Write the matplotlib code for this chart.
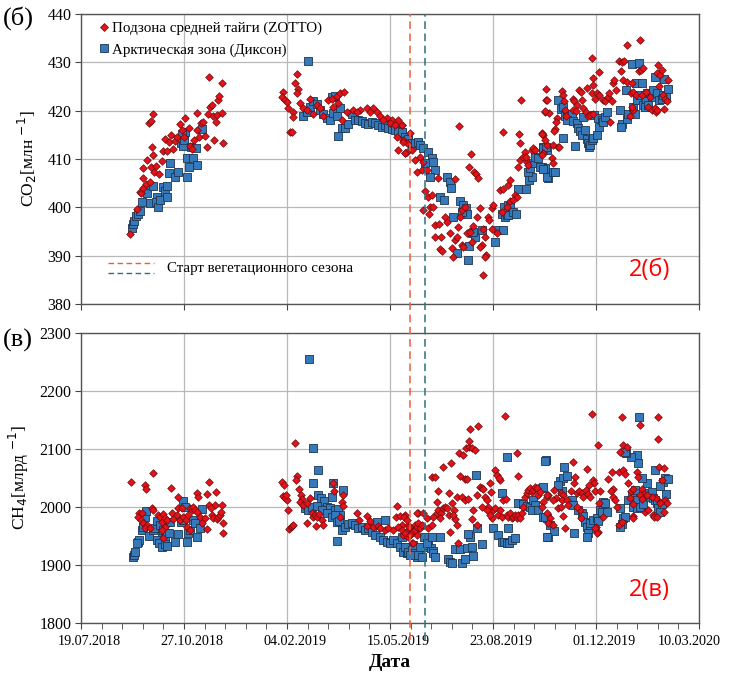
#CO2 and CH4 at ZOTTO and Dikson

import numpy as np
import pandas as pd
import matplotlib.pyplot as plt
import matplotlib.dates as mdates
import matplotlib.transforms as mtransforms
from matplotlib.lines import Line2D

plt.rcParams['font.family'] = ['Liberation Serif', 'DejaVu Serif']

# day offsets are counted from 19.07.2018
start = pd.Timestamp('2018-07-19')

# CO2, ZOTTO (red diamonds)
co2_zotto_day = [48, 54.7, 57, 58, 60.6, 60, 64.4, 66, 67.7, 69.6, 67.7, 71.2, 72.9, 76, 78.4, 80, 81.6, 83.9,
                 85.8, 87, 89, 91.3, 92.9, 96.2, 97.8, 100, 101.3, 104.6, 105.9, 107.5, 109.8, 112.3, 113, 114.9,
                 116.2, 118.2, 120.1, 122, 123.7, 125.3, 126.9, 124, 128.5, 129.2, 131.1, 131.8, 133.4, 134.3,
                 136.6, 137.3, 138.2, 60.6, 63.1, 67, 70.3, 68.6,
                 196.4, 194.8, 198, 199.7, 201.3, 206.2, 205.5, 209.4, 207.8, 211, 210, 202.9, 204.9, 212.6,
                 215.9, 219.1, 222.3, 228.8, 232, 240.1, 243.4, 248.2, 251.5, 255.3, 249.8, 253.1, 264.4, 270.9,
                 277.3, 283.8, 287.1, 296.8, 301.6, 308.1, 311.3, 306.5, 313, 316.2, 319.4, 314.6, 308.1, 225.6,
                 235.3, 245, 257.9, 267.6, 280.6, 290.3, 293.5, 300, 304.8,
                 311.3, 312.9, 316.2, 314.6, 321, 324.3, 325.9, 329.1, 330.7, 332.4, 335.6, 334, 337.2, 340.4,
                 332.4, 338.8, 342, 338.2, 346.9, 363.1, 367.3, 378.3, 377, 381.5, 383.5, 385.7, 343.7, 347.9,
                 343.7, 349.2, 348.5, 350.1, 353.4, 355, 358.2, 359.9, 361.5, 363.1, 364.7, 366.3, 368, 369.6,
                 372.8, 369.6, 371.2, 374.4, 377.7, 379.3, 380.9, 384.1, 387.4, 389, 387.4, 390.6, 392.2, 393.2,
                 392.2, 390.6, 395.5, 396.4, 398.7, 400.3, 398.7, 403.5, 406.8, 410, 414.9, 408.4, 413.3, 416.5,
                 416.5, 421.3, 423, 419.7, 424.6, 426.2, 429.4, 432.7, 434.3, 426.2, 431, 432, 437.5, 439.1,
                 440.8, 447.2, 448.8, 452.1, 409.4, 425.5, 426.8, 451.4, 450.5,
                 451.4, 452.7, 454.7, 450.8, 447.2, 450.5, 448.8, 447.2, 456.9, 457.9, 458.5, 463.4, 464.4,
                 460.2, 459.2, 461.8, 461.1, 466.6, 467.6, 468.9, 469.9, 470.8, 478, 478.6, 481.2, 483.8, 485.1,
                 486.1, 478, 480.8, 487.7, 490.3, 492.5, 494.1, 497.4, 491.6, 495.8, 496.7, 497.4, 495.8, 499,
                 500.6, 503.2, 503.2, 506.4, 508.7, 511.9, 513.6, 515.2, 512.9, 516.8, 517.4, 519.4, 523.9,
                 522.6, 524.9, 527.1, 526.5, 529.7, 530.4, 533.6, 534.6, 536.2, 538.8, 533, 536.2, 534.6, 542.7,
                 542.1, 543.3, 545.9, 544.3, 548.5, 552.4, 550.8, 554, 557.2, 558.2, 559.5, 560.5, 559.5, 562.1,
                 563.7, 565.3, 567, 568.6, 570.2, 566, 561.4]
co2_zotto_val = [394.5, 399.6, 403.2, 402.9, 406, 408.1, 409.8, 417.5, 417.9, 419.3, 408.4, 407.4, 408.5, 406.9,
                 409.6, 411.7, 414.1, 411.7, 413.6, 415, 412, 413.8, 414.6, 417.2, 415.9, 414.5, 418.4, 416.5,
                 412.7, 412, 413.9, 419.6, 416, 414.6, 417.4, 417.7, 414.8, 412.4, 419.4, 420.8, 421.2, 426.9,
                 418.8, 413.9, 417.7, 419.1, 422.2, 423, 425.7, 419.6, 413.4, 403.9, 404.8, 405.3, 410.8, 412.4,
                 423.9, 422.9, 422.2, 421.7, 420.5, 419.8, 418.6, 427.6, 425.8, 424.4, 423.6, 415.5, 415.6,
                 421.5, 420.5, 420.1, 422.5, 421.2, 420.5, 422.2, 422.5, 423, 423.6, 423.9, 421.5, 418.1, 420.1,
                 420.1, 420.5, 420.5, 419.8, 418.4, 418.1, 418.1, 417, 414.6, 413.9, 413.2, 415.3, 411.2, 411.9,
                 419.4, 418.8, 420.8, 419.8, 419.8, 419.8, 418.8, 418.1, 417.4, 417,
                 417, 413.6, 411.5, 411.2, 411.9, 409.8, 407.4, 410.5, 407.7, 409.4, 407.7, 403.4, 402.2, 402.5,
                 399.4, 400.1, 400.1, 398.7, 406, 405.8, 416.8, 411, 408.3, 407.2, 406.9, 406, 396.3, 396.5,
                 393.8, 393.9, 391.3, 391, 398, 397, 394.6, 391.5, 389.8, 393.2, 393.9, 396, 398, 399.4,
                 400.1, 392.2, 391.8, 394.6, 394.9, 392.9, 396.1, 398, 399.8, 392.2, 391.8, 395.6, 393.9, 390.1,
                 389.8, 386, 398, 397.4, 399.8, 400.5, 395.6, 394.6, 403.6, 403.7, 404.6, 399.1, 400.1, 401.2,
                 405.6, 402.5, 402.2, 401.5, 408.4, 409.8, 410.5, 409.4, 408.7, 413.2, 411.5, 410.5, 411.9, 412.2,
                 411.9, 415.3, 415, 412.9, 415.6, 415.2, 422.2, 422.2, 419.8,
                 424.4, 422.1, 419.6, 419.9, 415.2, 413.9, 411.2, 410.8, 410.1, 409.1, 412.9, 412.5, 412.4,
                 416.1, 415.7, 418.4, 417.7, 424.1, 423.2, 421.9, 420.1, 418.8, 422.5, 421.9, 421.2, 424.3, 423.9,
                 422.2, 420.1, 420, 420.5, 419.8, 418.8, 419.1, 419.4, 424.6, 423.6, 426.7, 425.3, 430.8, 422.5,
                 423.6, 423.2, 427.9, 422.2, 421.9, 422.9, 417.7, 421.9, 423.7, 425.7, 426.3, 424.3, 428.1,
                 430.3, 430.1, 430.3, 426.3, 426, 433.6, 423.6, 425.7, 423.9, 423.2, 418.8, 420.1, 420.7, 434.6,
                 428.1, 428.4, 428.8, 423.2, 423.9, 422.9, 420.8, 420.1, 420.5, 419.8, 420.1, 429.4, 427.7, 427.4,
                 428.4, 423.2, 422.5, 421.9, 426.3, 420.3, 425]

# CO2, Dikson (blue squares)
co2_dikson_day = [49.2, 50.2, 51.5, 53.4, 55.7, 57.3, 59.3, 62.5, 63.8, 69.6, 67, 73.5, 72.9, 75.1, 76.7, 80,
                  81.6, 83.9, 83.2, 86.4, 85.8, 91.3, 94.5, 96.8, 98.7, 100, 101, 103.3, 102.6, 104.6, 107.2,
                  109.1, 113, 111.7, 117.2, 97.8,
                  220.7, 215.9, 219.1, 222.3, 225.6, 228.8, 232, 235.3, 238.5, 241.7, 245, 248.2, 243.4, 246.6,
                  251.5, 253.1, 256.3, 259.5, 262.8, 266, 269.3, 272.5, 275.7, 279, 282.2, 285.4, 288.7, 291.9,
                  295.1, 298.4, 301.6, 304.8, 308.1, 311.3, 314.6, 317.8, 321, 324.3, 327.5, 249.8,
                  311.3, 314.6, 317.8, 321, 324.3, 327.5, 329.1, 332.4, 337.2, 340.4, 342, 343.7, 334, 338.8,
                  355, 358.2, 358.9, 348.5, 352.4, 361.5, 368, 371.2, 373.8, 375.1, 369.6, 379.3, 382.5, 380.9,
                  389, 377, 376, 364.7, 402, 405.2, 410, 408.4, 411.6, 413.3, 414.9, 410.7, 414.9, 416.5, 419.7,
                  422.3, 424.6, 432, 435.3, 437.5, 434.3, 435.9, 439.1, 440.8, 444, 447.2, 450.5, 452.1, 448.8, 453,
                  448.2, 451.4, 445.6, 448.8, 452.7, 458.5, 460.2, 463.4, 465.7, 468.3, 469.9, 471.5, 473.1,
                  476.3, 467.6, 471.5, 478, 481.2, 482.8, 484.4, 486.1, 487.7, 489.3, 491.6, 492.5, 493.5, 494.1,
                  495.8, 497.4, 500.6, 498, 502.2, 503.2, 505.5, 507.1, 508.7, 510.3, 479.6, 523.3, 524.9, 523.9,
                  530.4, 531.4, 536.2, 537.8, 539.4, 529.1, 534.6, 538.8, 541.4, 544.3, 542.7, 545.9, 548.5,
                  549.2, 552.4, 554, 555.6, 557.2, 558.9, 561.4, 563.7, 565.3, 567.9, 570.2, 566, 547.5, 550.8]
co2_dikson_val = [395.8, 396.5, 397.2, 398.1, 398.6, 399.3, 401, 403.6, 403, 404.4, 400.8, 402.2, 401, 400.1,
                  401.5, 404.2, 403.4, 404.4, 402.2, 409.2, 407, 406.3, 407.2, 413.4, 412.7, 413.9, 415.6, 406.3,
                  410.3, 408.3, 412.4, 410.1, 408.8, 412.2, 416.3, 415.2,
                  430.3, 418.8, 419.8, 420.8, 421.9, 421.4, 420.1, 419.3, 418.4, 418.1, 419.6, 418.9, 422.8, 423,
                  420.5, 416.5, 416.5, 417.2, 419.3, 418.1, 418.1, 417.9, 417.5, 417.2, 417.7, 417.4, 417, 416.7,
                  417, 416.5, 416.3, 416, 415.7, 415.3, 414.6, 413.9, 413.1, 412.9, 413.2, 414.7,
                  415.6, 414.6, 414.1, 413.2, 413.4, 413.6, 412.9, 412.2, 411.5, 410.1, 409.4, 407.7, 409.2, 406.3,
                  406.3, 405.3, 403.9, 402.1, 401.5, 398, 401.2, 400.5, 399.8, 398.7, 399.1, 394.6, 393.9, 394.9,
                  395.3, 392, 389.2, 390.5, 392.9, 395.3, 395.3, 398.7, 398, 398.4, 398.4, 400.1, 400.5, 400.3,
                  399.1, 398.7, 403.7, 403.7, 405.6, 406.3, 407.4, 408.1, 409.1, 410.5, 410.1, 408.4, 408.1, 411.9,
                  412.5, 406,
                  412.2, 412.5, 408.4, 407.9, 406.3, 407.2, 407.4, 422.3, 420.3, 420.8, 418.8, 419.4, 418.4,
                  419.4, 414.3, 418.1, 417.9, 417.4, 416.5, 415.7, 415, 418.6, 416, 414.1, 413.2, 412.4, 412.9,
                  413.9, 414.3, 415, 419.1, 418.4, 416.7, 418.1, 417.7, 418.6, 419.8, 412.7, 420.1, 417.2, 416.7,
                  418.2, 419.4, 420.7, 419.4, 422.2, 424.3, 429.7, 425.8, 429.8, 425.8, 423.2, 421.2, 421.9,
                  423.6, 423.6, 422.9, 424.3, 427, 423.6, 422.2, 422.5, 423.2, 422.9, 424.4, 426.5, 420.8, 421.2]

# CH4, ZOTTO (red diamonds)
ch4_zotto_day = [48.3, 70.3, 62.2, 63.1, 87.1, 56.7, 58.9, 55.7, 58, 60.6, 63.8, 62.2, 67, 68.6, 70.3, 75.1,
                 76.7, 78.4, 80, 81.6, 83.2, 81.6, 78.4, 80, 88.1, 89.7, 92.9, 94.5, 96.2, 94.5, 97.8, 99.4, 102,
                 104.2, 105.9, 107.5, 102.6, 105.9, 109.1, 110.7, 112.3, 114, 113, 115.6, 117.2, 120.4, 122,
                 122.7, 124, 131.1, 124.6, 126.9, 128.5, 130.1, 131.8, 133.4, 135, 136, 136.6, 137.6, 138.2,
                 125.9,
                 207.8, 194.8, 197.1, 196.4, 198, 199.7, 199, 201.3, 202.3, 203.6, 204.5, 205.5, 209.4, 208.7,
                 212, 213.3, 214.2, 212.6, 215.9, 219.7, 222.3, 224, 225.6, 227.2, 228.8, 231.4, 233.7, 235.3,
                 228.2, 219.7, 244.3, 245.6, 254.7, 253.1, 254, 251.5, 267.6, 270.2, 277.3, 280.6, 283.8, 288.7,
                 295.1, 298.4, 303.2, 277.3, 290.3, 307.1, 305.8, 309.7, 314.6, 311.3, 308.1, 317.8, 319.4,
                 316.2, 313, 321, 322.6, 324.3, 327.5, 325.9, 321, 327.5,
                 313.6, 316.2, 318.8, 311.3, 314.6, 317.8, 321, 324.3, 325.9, 327.5, 329.1, 326.5, 332.4, 330.7,
                 322, 319.4, 335.6, 337.2, 340.4, 342, 345.3, 346.9, 349.2, 351.8, 353.4, 355.7, 357.6, 348.5,
                 345.9, 340.4, 343.7, 346.9, 351.8, 358.9, 357.6, 359.9, 362.1, 363.1, 364.7, 358.2, 366.3,
                 361.5, 367.3, 371.2, 373.8, 377, 379.3, 382.5, 377, 377.7, 385.7, 368, 372.8, 374.4, 365.4,
                 369.6, 372.8, 376, 379.3, 380.2, 384.1, 384.8, 387.4, 389, 390.6, 392.2, 393.8, 395.5, 397.1,
                 397.7, 401.9, 403.5, 406.8, 406.1, 389, 398.7, 400.3, 401.9, 405.2, 406.8, 408.4, 410, 412.6,
                 413.3, 414.9, 416.5, 418.1, 419.7, 421.3, 423, 424.6, 426.2, 427.8, 429.4, 431, 432.7, 434.3,
                 435.9, 437.5, 439.1, 440.8, 442.4, 444, 445.6, 452.1, 453.7, 448.8, 411.6, 423.6, 424.6, 394.5,
                 397.1,
                 495.8, 502.2, 524.9, 542.7, 560.5, 560.5, 525.9, 530.4, 523.3, 477.3, 490.9, 479.6, 478.6,
                 497.4, 498, 452.1, 447.2, 459.2, 461.1, 458.5, 465.7, 467.6, 466.6, 452.1, 455.3, 453.7, 457.9,
                 463.4, 465.7, 481.2, 483.8, 486.1, 490.3, 492.5, 494.1, 487.7, 493.5, 499, 503.9, 503.2, 507.1,
                 502.2, 500, 484.4, 481.2, 485.1, 475.4, 471.5, 473.1, 468.3, 469.9, 511.9, 515.2, 516.8, 518.4,
                 516.1, 514.2, 520.1, 522.6, 526.5, 528.1, 531.4, 533.6, 536.2, 533, 535.6, 540.1, 541.1, 544.3,
                 546.6, 542.7, 544.3, 522.6, 524.9, 535.6, 536.2, 547.5, 550.8, 555, 556.3, 558.9, 561.4, 566,
                 563.7, 567, 568.6, 566, 562.1, 558.2, 554, 549.8, 501.3, 499]
ch4_zotto_val = [2043.7, 2058, 2038, 2030.5, 2032.2, 1989, 1989, 1983, 1977.6, 1971.8, 1969, 1963.2, 1963.2,
                 1997.7, 1994.8, 1986.2, 1983.3, 1974.7, 1987.9, 1980.5, 1977.6, 1966.1, 1960.4, 1946, 1989,
                 1978.7, 1986.2, 1997.7, 1977.6, 2016.7, 1997.7, 1983.3, 1977.6, 1986.2, 1997.7, 1994.8, 1966.1,
                 1960.4, 2000.6, 1994.8, 2024.7, 2017.8, 1992, 1983.3, 1971.8, 1980.5, 1961.5, 2022.4, 2043.7,
                 2026.4, 2003.5, 1986.2, 1980.5, 2003.5, 1978.7, 1983.3, 1986.2, 1992, 2003.5, 1973, 1955.8,
                 1997.7,
                 2110.9, 2043.7, 2038, 2019, 2015, 2012.1, 2020.7, 1994.8, 1961.5, 1965, 1967.3, 1969, 2053.5,
                 2046.6, 2030.5, 2020.7, 2013.2, 2009.2, 2003.5, 2006.3, 2015, 1989.1, 1983.3, 1986.2, 1983.3,
                 1987.9, 1977.6, 1969, 1967.3, 1971.8, 2042, 2028.2, 2020.7, 2009.2, 2001.7, 1983.3, 1989.1,
                 1977.6, 1984.5, 1976.4, 1966.1, 1967.3, 1960.4, 1963.2, 1960.4, 1967.3, 1963.2, 2001.7, 1983.3,
                 1984.5, 1986.2, 1969, 1966.1, 1969, 1963.2, 1959.2, 1951.7, 1954.6, 1957.5, 1969, 1961.5,
                 1951.7, 1938.5, 1990.3,
                 1983.4, 1977.6, 1966.1, 1960.4, 1954.6, 1948.9, 1957.5, 1960.4, 1966.1, 1971.8, 1963.2, 1989.1,
                 1989.1, 1969, 1937.4, 1951.7, 1980.5, 1963.2, 1969, 1983.3, 1989.1, 1994.8, 1989.1, 1997.7,
                 2000.6, 1997.7, 1986.2, 1980.5, 2009.2, 2052.3, 2051.2, 2028.2, 2068.4, 2076.5, 2023.6, 2006.3,
                 1994.8, 1978.7, 1969, 1957.5, 1938.5, 1986.2, 2093.7, 2089.7, 2101.2, 2104, 2101.2, 2098.3,
                 2114.4, 2133.9, 2139.7, 2053.5, 2047.7, 2047.7, 2017.8, 2016.7, 2012.1, 2013.2, 1978.7, 1994.8,
                 2020.7, 1969, 2035.1, 2032.2, 2030.5, 2017.8, 2012.1, 2000.6, 2040.9, 2026.4, 2063.8, 2055.2,
                 2046.6, 2049.5, 2000.6, 1980.5, 1994.8, 1997.7, 1986.2, 1994.8, 1983.3, 2012.1, 2013.2, 1986.2,
                 1983.3, 1989.1, 1980.5, 1983.3, 1986.2, 1980.5, 1986.2, 1980.5, 1989.1, 2000.6, 2017.8, 2023.6,
                 2029.3, 2032.2, 2026.4, 2029.3, 2035.1, 2032.2, 2020.7, 2026.4, 2017.8, 2020.7, 2009.2, 2156.9,
                 2093.7, 2053.5, 1994.8, 1986.2,
                 2160.4, 2106.9, 2154.6, 2141.4, 2155.8, 2116.7, 2106.9, 2104, 2095.4, 2078.2, 2065, 2051.2,
                 2042, 2046.6, 2042, 2020.7, 2000.6, 2029.3, 2014.9, 2012.1, 2024.7, 2020.7, 2012.1, 1989.1,
                 1980.5, 1971.8, 1969, 1997.7, 2000.6, 2023.6, 2028.2, 2023.6, 2029.3, 2022.4, 2017.8, 2017.8,
                 2038, 2028.2, 2028.2, 2006.3, 1983.3, 1957.5, 1966.1, 1994.8, 2000.6, 1980.5, 2028.2, 2012.1,
                 2003.5, 1984.5, 1963.2, 2047.7, 2061, 2017.8, 2012.1, 2030.5, 2028.2, 2000.6, 2061, 2063.8,
                 2056.9, 2042, 2028.2, 2030.5, 2015, 2005.2, 2061, 2052.3, 2030.5, 2022.4, 2020.7, 2013.2, 1969,
                 1974.7, 1984.5, 1980.5, 1992, 1994.8, 1986.2, 1982.2, 1983.3, 2069.6, 2066.7, 2046.6, 2012.1,
                 2007.5, 1992, 2006.3, 2015, 2017.8, 2020.7, 1955.8, 1963.2]

# CH4, Dikson (blue squares)
ch4_dikson_day = [50.2, 51.5, 52.5, 55.7, 56.7, 54.1, 58.9, 60.6, 62.5, 63.1, 66.4, 70.3, 71.9, 73.5, 76.7,
                  78.4, 80, 81.6, 83.2, 85.8, 84.8, 73.5, 76.1, 78.4, 81.6, 83.9, 91.3, 86.4, 94.5, 96.8, 98.7,
                  99.4, 101, 103.3, 104.2, 105.9, 109.1, 110.7, 113, 115.6, 117.2,
                  221.4, 225.6, 230.4, 225.6, 245, 254, 243.4, 230.4, 232.7, 235.9, 238.5, 241.7, 246.6, 249.8,
                  251.5, 217.5, 220.7, 224, 228.8, 233.7, 238.5, 243.4, 246.6, 248.2, 250.8, 248.9, 253.1, 256.3,
                  259.5, 262.8, 266, 269.3, 272.5, 275.7, 279, 282.2, 285.4, 287.1, 290.3, 295.1, 293.5, 296.8,
                  300, 303.2, 306.5, 309.7, 313, 316.2, 319.4, 322.6, 325.9, 329.1,
                  311.3, 314.6, 317.8, 321, 324.3, 327.5, 330.7, 333, 334, 337.2, 339.5, 341.4, 342, 343.7, 322.6,
                  319.4, 329.1, 335.6, 340.4, 348.5, 356.6, 358.2, 359.9, 363.1, 368, 369.6, 372.8, 374.4, 377.7,
                  376, 379.3, 384.1, 389, 380.9, 383.5, 400.3, 405.2, 408.4, 410.7, 413.3, 415.8, 418.1, 421.3,
                  414.9, 408.4, 413.3, 424.6, 429.4, 432.7, 435.9, 439.1, 440.8, 437.5, 444, 447.2, 448.8, 452.1,
                  453.7, 451.4,
                  542.1, 450.5, 468.9, 448.2, 465, 468.3, 471.5, 466.6, 463.4, 450.5, 455.3, 459.2, 452.7, 476.3,
                  478, 482.8, 486.1, 487.7, 489.3, 490.9, 494.1, 492.5, 490.9, 494.1, 497.4, 500.6, 502.2, 503.9,
                  505.5, 507.1, 508.7, 510.3, 478.6, 523.3, 526.5, 528.1, 524.9, 523.3, 531.4, 534.6, 537.8,
                  539.4, 536.2, 539.4, 542.7, 545.9, 547.5, 550.8, 552.4, 554, 555.6, 557.2, 558.9, 560.5, 562.1,
                  563.7, 565.3, 567, 570.2, 567.9, 562.1, 557.2, 549.2, 544.3, 541.1, 539.4, 533.6, 529.1, 528.1]
ch4_dikson_val = [1913.2, 1917.2, 1923, 1940.2, 1943.1, 1938.5, 1960.4, 1965, 1982.2, 1993.7, 1950, 1960.4,
                  1963.2, 1976.4, 1969, 1955.8, 1960.4, 1946, 1954.6, 1954.6, 1974.7, 1943.1, 1937.4, 1931.6,
                  1936.2, 1932.8, 1940.2, 1974.7, 1953.5, 1974.7, 1977.6, 2010.9, 1999.4, 1940.2, 1954.6, 1960.4,
                  1977.6, 1971.8, 1948.9, 1963.2, 1996,
                  2255, 2102.3, 2063.8, 2042, 2042, 2029.3, 2017.8, 2020.7, 2015, 2011, 2000.6, 1997.7, 1994.8,
                  1996, 1986.2, 1997.7, 1994.8, 1999.4, 2001.7, 1994.8, 1989.1, 1983.3, 1986.2, 1974.7, 1976.4,
                  1941.4, 1960.4, 1966.1, 1970.7, 1973, 1969, 1963.2, 1966.1, 1960.4, 1963.2, 1957.5, 1951.7,
                  1974.7, 1948.9, 1977.6, 1943.1, 1940.2, 1937.4, 1943.1, 1937.4, 1931.6, 1923, 1920.1, 1919,
                  1923, 1914.4, 1925.9,
                  1948.9, 1931.6, 1923, 1925.9, 1920.1, 1917.2, 1914.4, 1948.9, 1931.6, 1934.5, 1928.7, 1924.7,
                  1920.1, 1914.4, 1934.5, 1917.2, 1931.6, 1937.4, 1948.9, 1947.7, 1909.8, 1905.8, 1904, 1927,
                  1927, 1904, 1909.8, 1928.7, 1947.7, 1953.5, 1931.6, 1963.2, 1936.2, 1915.5, 2055.2, 1963.2,
                  1951.7, 1940.2, 1940.2, 1937.4, 1937.4, 1943.1, 1946, 1963.2, 2023.6, 2085.7, 2006.3, 2005.2,
                  2001.7, 2000.6, 2012.1, 2003.5, 1994.8, 1994.8, 2032.2, 1983.3, 1980.5, 1948.9, 2081.1,
                  2155.8, 2079.9, 2068.4, 2034, 2045.4, 2049.5, 2053.5, 2028.2, 2038, 1983.4, 1969, 1959.2,
                  1948.9, 2012.1, 2003.5, 1994.8, 1989.1, 1984.5, 1974.7, 1966.1, 1963.2, 1954.6, 1948.9, 1971.8,
                  1977.6, 1980.5, 1976.4, 1994.8, 1992, 2009.2, 2006.3, 1992, 1955.8, 1997.7, 1980.5, 1983.4,
                  1970.7, 1966.1, 2012.1, 2020.7, 2029.3, 2012.1, 1999.4, 1997.7, 2000.6, 2005.2, 2020.7, 2023.6,
                  2017.8, 2026.4, 2015, 2012.1, 2006.3, 1997.7, 1992, 2005.2, 2043.7, 2049.5, 2047.7, 2022.4,
                  2036.2, 2063.8, 2042, 2049.5, 2075.3, 2089.7, 2085.7, 2092.6, 2095.4]

# start of growing season
season_start = ['2019-06-03', '2019-06-18']
season_colors = ['#f25b3a', '#2d6e80']

xticks = pd.date_range('2018-07-19', periods=7, freq='100D')


def to_dates(days):
    return start + pd.to_timedelta(np.array(days), unit='D')


red = '#e3121b'
red_edge = '#6e0a0a'
blue = '#3679ba'
blue_edge = '#1d3650'

fig = plt.figure(figsize=(7.3, 6.77), dpi=100)
ax1 = fig.add_axes([0.111, 0.551, 0.8466, 0.4284])
ax2 = fig.add_axes([0.111, 0.0798, 0.8466, 0.4284])

panels = [(ax1, co2_zotto_day, co2_zotto_val, co2_dikson_day, co2_dikson_val),
          (ax2, ch4_zotto_day, ch4_zotto_val, ch4_dikson_day, ch4_dikson_val)]
for ax, zd, zv, dd, dv in panels:
    ax.scatter(to_dates(dd), dv, marker='s', s=34, c=blue, edgecolors=blue_edge, linewidths=0.6, zorder=3)
    ax.scatter(to_dates(zd), zv, marker='D', s=15, c=red, edgecolors=red_edge, linewidths=0.5, zorder=4)
    ax.set_xlim(xticks[0], xticks[-1])
    ax.set_xticks(xticks)
    ax.xaxis.set_major_formatter(mdates.DateFormatter('%d.%m.%Y'))
    ax.grid(True, color='#b8b8b8', lw=0.9)
    ax.set_axisbelow(True)
    ax.tick_params(axis='x', direction='out', length=4, color='#444444', labelsize=10.2, pad=5)
    ax.tick_params(axis='y', direction='out', length=4, color='#444444', labelsize=11.5, pad=3)
    for sp in ax.spines.values():
        sp.set_color('#555555')
        sp.set_linewidth(1.0)

# top panel: CO2
ax1.set_ylim(380, 440)
ax1.set_yticks(np.arange(380, 441, 10))
ax1.tick_params(axis='x', labelbottom=False)
ax1.set_ylabel('CO$_2$[млн $^{-1}$]', fontsize=12.5, labelpad=6)

# bottom panel: CH4
ax2.set_ylim(1800, 2300)
ax2.set_yticks(np.arange(1800, 2301, 100))
minor = pd.date_range('2018-07-19', '2020-03-10', freq='20D')
ax2.set_xticks(minor, minor=True)
ax2.tick_params(axis='x', which='minor', direction='out', length=4, color='#444444')
ax2.set_ylabel('CH$_4$[млрд $^{-1}$]', fontsize=12.5, labelpad=6)
ax2.set_xlabel('Дата', fontsize=14, fontweight='bold', labelpad=4)

# date labels sit a little right of their ticks; the last one is pulled in
labels = ax2.get_xticklabels()
for i, lab in enumerate(labels):
    dx = 6 / 72 if i < len(labels) - 1 else -7 / 72
    lab.set_transform(lab.get_transform() + mtransforms.ScaledTranslation(dx, 0, fig.dpi_scale_trans))

# season start lines run through both panels
for d, c in zip(season_start, season_colors):
    ax2.axvline(pd.Timestamp(d), ymin=-0.06, ymax=2.1, color=c, ls=(0, (5, 3)), lw=1.1,
                clip_on=False, zorder=5)

# legends
handles = [Line2D([], [], marker='D', ls='', ms=4.5, mfc=red, mec=red_edge, mew=0.5),
           Line2D([], [], marker='s', ls='', ms=6, mfc=blue, mec=blue_edge, mew=0.6)]
ax1.legend(handles, ['Подзона средней тайги (ZOTTO)', 'Арктическая зона (Диксон)'],
           loc='upper left', bbox_to_anchor=(0.0, 1.025), frameon=False, fontsize=10.8,
           handletextpad=0.05, labelspacing=0.5, handlelength=1.0, borderpad=0.5)

ax1.plot([0.044, 0.118], [0.141, 0.141], transform=ax1.transAxes, color=season_colors[0],
         ls=(0, (4, 2.5)), lw=1.0)
ax1.plot([0.044, 0.118], [0.107, 0.107], transform=ax1.transAxes, color=season_colors[1],
         ls=(0, (4, 2.5)), lw=1.0)
ax1.text(0.139, 0.124, 'Старт вегетационного сезона', transform=ax1.transAxes, fontsize=10.8,
         va='center', ha='left')

# panel names
fig.text(0.004, 0.974, '(б)', fontsize=19, va='center', ha='left')
fig.text(0.004, 0.497, '(в)', fontsize=19, va='center', ha='left')
ax1.text(0.953, 0.117, '2(б)', transform=ax1.transAxes, color='red', fontsize=17,
         family='Open Sans', ha='right', va='center')
ax2.text(0.953, 0.114, '2(в)', transform=ax2.transAxes, color='red', fontsize=17,
         family='Open Sans', ha='right', va='center')

plt.savefig('out.png', dpi=100)
